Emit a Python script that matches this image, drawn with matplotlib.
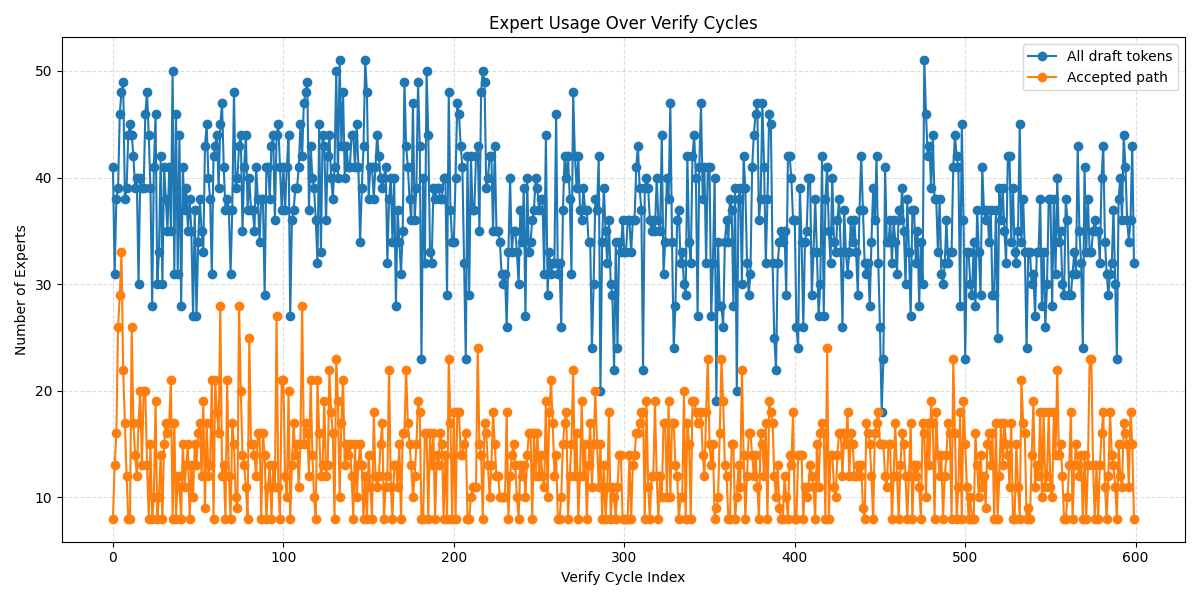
import matplotlib
matplotlib.use("Agg")
import matplotlib.pyplot as plt
import numpy as np

all_draft = [
    41,31,38,39,46,48,49,38,39,44, 45,44,42,39,40,30,40,39,39,46, 48,44,39,28,41,46,30,33,42,30, 41,38,35,41,35,50,31,46,31,44, 28,41,37,39,35,38,35,27,37,27,
    34,38,35,33,43,45,40,38,31,42, 43,44,39,45,47,41,37,38,37,31, 37,48,39,40,43,44,35,41,44,37, 40,37,37,35,41,38,34,38,38,29, 41,41,38,43,44,36,44,45,41,37,
    41,37,41,44,27,36,37,39,39,41, 45,42,47,48,49,37,43,40,39,36, 32,45,33,44,43,36,42,44,40,38, 41,50,40,51,43,48,40,43,41,41, 44,44,41,45,41,34,39,43,51,48,
    38,41,41,38,41,44,42,40,39,40, 41,32,38,40,34,40,28,37,34,31, 35,49,43,41,38,36,47,36,39,49, 43,23,40,32,50,44,33,32,39,38, 39,39,38,38,40,40,29,48,37,34,
    34,40,47,46,43,41,32,23,42,29, 42,37,37,42,43,35,48,50,49,39, 40,42,42,35,43,35,35,34,31,30, 31,26,33,40,33,35,35,33,30,37, 34,39,27,40,33,34,36,37,40,39,
    37,38,38,31,44,29,33,31,32,32, 46,31,32,26,37,42,40,42,38,31, 48,42,39,42,37,36,39,37,37,34, 34,24,30,38,37,42,20,34,39,35, 32,36,30,29,22,34,24,34,33,36,
    33,33,36,36,33,36,36,41,43,39, 37,22,39,40,39,36,35,36,35,40, 36,35,44,31,34,40,38,47,34,24, 28,36,37,32,33,30,29,42,34,32, 42,44,40,27,41,47,38,41,32,41,
    41,27,32,40,19,34,28,28,26,34, 36,34,38,37,28,39,20,38,39,30, 42,39,32,29,31,41,44,46,47,36, 38,47,41,32,38,46,45,32,25,22, 32,34,35,34,35,29,42,42,40,36,
    36,26,24,39,34,26,34,35,40,40, 29,33,38,33,27,30,42,27,38,41, 35,32,40,34,33,36,38,33,26,37, 33,31,33,36,34,36,33,29,37,42, 37,32,31,32,28,34,39,36,42,32,
    26,18,23,41,34,34,36,32,36,34, 31,37,36,39,35,30,38,33,27,37, 37,32,35,28,34,30,51,46,42,43, 39,44,38,38,33,38,31,30,32,36, 32,33,33,41,44,42,41,28,45,36,
    23,33,33,30,29,34,28,37,33,29, 41,37,36,37,34,37,29,29,37,25, 39,36,39,35,32,42,42,34,39,33, 32,35,45,34,38,33,24,33,33,30, 31,27,33,33,38,28,33,26,30,38,
    38,28,38,31,40,34,35,30,29,38, 36,29,29,31,33,31,43,35,32,24, 41,33,38,33,33,35,36,35,35,32, 40,43,34,31,29,31,32,37,30,23, 38,40,36,44,41,36,34,36,43,32,
]

accepted = [
    8,13,16,26,29,33,22,17,12,8, 8,26,17,14,12,17,20,13,20,20, 13,8,15,8,10,19,8,10,14,8, 15,17,16,17,21,8,17,8,12,11, 8,15,11,13,15,8,13,10,15,13,
    16,17,12,19,9,17,12,13,21,8, 21,18,16,28,12,13,8,21,12,8, 17,15,10,9,28,20,14,13,11,8, 25,15,15,14,12,16,16,8,16,14, 8,11,13,8,13,11,27,11,8,21,
    21,12,10,20,8,13,17,14,15,11, 15,28,15,17,16,12,21,14,10,8, 21,16,12,13,19,12,13,22,18,16, 8,23,19,10,17,21,13,15,14,15, 12,8,15,10,13,15,13,8,12,8,
    14,11,8,18,12,11,12,15,17,8, 11,12,22,11,8,13,13,11,15,8, 16,16,22,17,15,13,10,12,15,19, 18,8,8,16,16,8,16,13,16,8, 14,13,16,15,8,14,8,23,17,8,
    18,8,18,18,14,14,15,16,8,8, 10,11,11,11,24,15,14,8,17,16, 13,10,13,18,15,12,12,10,10,10, 10,18,8,12,14,15,13,10,8,13, 12,13,10,14,16,16,8,16,12,16,
    12,14,12,11,19,10,18,21,17,12, 14,8,8,10,15,17,18,8,12,15, 22,12,16,8,12,19,12,15,8,13, 17,11,15,20,15,11,15,8,13,8, 11,18,8,11,10,8,11,14,14,8,
    8,8,8,14,8,13,14,16,16,17, 18,18,8,19,11,8,12,12,19,12, 8,12,10,17,17,10,19,10,17,17, 13,12,8,10,10,20,8,17,15,8, 19,19,18,17,17,18,14,12,18,23,
    15,13,15,8,9,10,16,23,19,13, 12,8,8,15,15,8,10,13,11,22, 14,8,12,16,16,14,12,14,11,8, 16,15,12,17,8,19,18,17,12,10, 13,9,8,8,12,10,8,14,13,18,
    8,8,14,14,14,8,11,10,11,13, 12,11,8,15,11,16,17,16,8,24, 8,14,14,11,10,14,16,16,12,16, 15,18,12,16,15,12,12,13,12,13, 9,8,17,16,15,12,8,16,17,18,
    15,15,15,12,11,15,15,8,12,17, 12,8,13,16,15,12,8,12,17,8, 13,12,13,11,8,17,16,10,17,13, 19,17,8,18,14,12,14,8,12,14, 17,16,8,23,16,8,11,18,8,19,
    15,11,8,10,8,8,16,13,10,14, 11,12,9,15,16,13,16,8,17,8, 12,17,13,17,15,14,11,17,8,8, 15,11,8,21,17,16,8,9,8,14, 19,11,13,12,18,10,18,11,12,18,
    11,10,18,14,22,14,15,12,8,8, 10,13,18,8,13,15,13,12,14,8, 14,8,13,23,23,13,8,13,8,13, 16,18,11,8,12,18,14,13,11,8, 15,12,11,17,16,15,11,18,15,8,
]

cycles = np.arange(len(all_draft))

fig, ax = plt.subplots(figsize=(12, 6), dpi=100)
ax.plot(cycles, all_draft, marker='o', markersize=6, linewidth=1.5, color='#1f77b4', label='All draft tokens')
ax.plot(np.arange(len(accepted)), accepted, marker='o', markersize=6, linewidth=1.5, color='#ff7f0e', label='Accepted path')
ax.set_title('Expert Usage Over Verify Cycles')
ax.set_xlabel('Verify Cycle Index')
ax.set_ylabel('Number of Experts')
ax.grid(True, linestyle='--', alpha=0.4)
ax.legend(loc='upper right')
fig.tight_layout()
fig.savefig('out.png')
